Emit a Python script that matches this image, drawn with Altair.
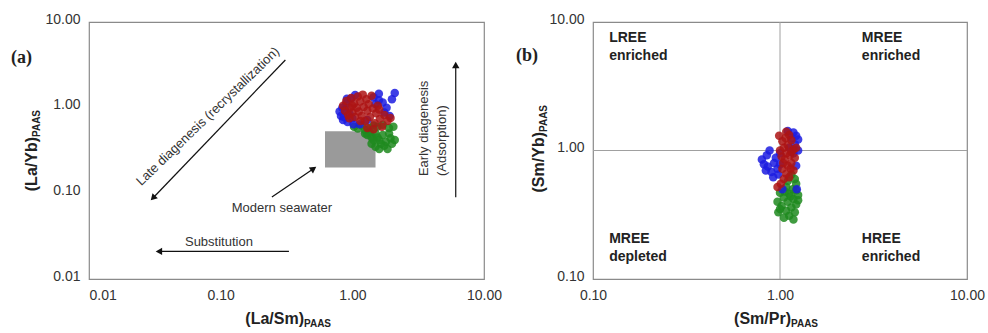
import altair as alt
import pandas as pd

# ---------------- Panel (a): (La/Sm)PAAS vs (La/Yb)PAAS ----------------
green_a_x = [1.03, 1.10, 1.18, 1.25, 1.35, 1.45, 1.55, 1.70, 1.90, 2.05, 1.30, 1.40, 1.50, 1.60, 1.70,
             1.80, 1.95, 2.10, 1.40, 1.50, 1.60, 1.75, 1.85, 1.45, 1.65, 1.35, 1.55, 2.00, 1.25, 1.90]
green_a_y = [0.60, 0.57, 0.62, 0.55, 0.58, 0.62, 0.60, 0.63, 0.58, 0.60, 0.48, 0.45, 0.50, 0.42, 0.48,
             0.40, 0.44, 0.42, 0.38, 0.35, 0.33, 0.36, 0.33, 0.42, 0.38, 0.52, 0.45, 0.38, 0.50, 0.50]

blue_a_x = [0.80, 0.82, 0.85, 0.88, 0.92, 0.95, 1.00, 0.84, 0.90, 0.98, 1.02, 0.91, 1.05, 1.59, 2.10,
            2.00, 1.59, 1.82, 1.92, 1.14, 1.50, 1.70, 1.45, 1.75, 1.30, 0.86]
blue_a_y = [0.90, 0.80, 0.72, 0.95, 0.68, 0.85, 0.75, 1.00, 1.12, 1.28, 0.64, 1.27, 1.41, 1.45, 1.48,
            1.25, 1.22, 1.00, 0.80, 0.64, 1.10, 1.15, 1.32, 0.88, 0.72, 0.78]

red_a_x = [0.85, 0.88, 0.90, 0.93, 0.96, 0.98, 1.00, 1.03, 1.05, 1.08, 1.10, 1.12, 1.15, 1.18, 1.20,
           1.22, 1.25, 1.28, 1.30, 1.33, 1.36, 1.40, 1.43, 1.48, 1.52, 1.56, 1.62, 1.68, 1.75, 1.85,
           1.95, 1.30, 1.45, 1.00, 1.15, 0.95, 1.60]
red_a_y = [1.05, 0.92, 1.20, 0.82, 1.00, 1.30, 0.88, 1.12, 0.78, 1.00, 1.35, 0.90, 1.18, 0.80, 1.42,
           1.02, 0.70, 1.25, 0.92, 1.10, 0.78, 1.38, 0.98, 0.66, 0.86, 1.05, 0.74, 0.60, 0.82, 0.70,
           0.76, 0.58, 0.56, 1.05, 0.70, 0.75, 0.95]

# modern seawater field
seawater_x = [0.62]
seawater_x2 = [1.5]
seawater_y = [0.2]
seawater_y2 = [0.53]

# arrows in panel (a): start -> head
arrow_names = ["late", "substitution", "seawater", "early"]
arrow_x = [0.31, 0.33, 0.245, 6.1]
arrow_y = [3.6, 0.021, 0.0906, 0.09]
arrow_x2 = [0.031, 0.0346, 0.50, 6.1]
arrow_y2 = [0.09, 0.021, 0.191, 3.06]
arrow_angle = [224, 270, 56, 0]

# annotation texts in panel (a)
note_a_text = [["Late diagenesis (recrystallization)"], ["Modern seawater"], ["Substitution"],
               ["Early diagenesis", "(Adsorption)"]]
note_a_x = [0.080, 0.292, 0.097, 3.50]
note_a_y = [0.79, 0.0675, 0.027, 0.159]
note_a_angle = [316, 0, 0, 270]
note_a_align = ["center", "center", "center", "left"]

# ---------------- Panel (b): (Sm/Pr)PAAS vs (Sm/Yb)PAAS ----------------
green_b_x = [1.15, 1.20, 1.10, 1.22, 1.08, 1.17, 1.00, 1.12, 1.25, 1.05, 1.18, 0.97, 1.10, 1.22, 1.02,
             1.15, 1.08, 0.98, 1.20, 1.12, 1.05, 1.18, 1.25, 1.00, 1.14, 1.06, 1.22]
green_b_y = [0.65, 0.60, 0.58, 0.55, 0.52, 0.50, 0.47, 0.46, 0.45, 0.43, 0.42, 0.40, 0.40, 0.38, 0.37,
             0.36, 0.34, 0.33, 0.33, 0.31, 0.30, 0.29, 0.41, 0.35, 0.44, 0.48, 0.49]

blue_b_x = [1.10, 1.18, 1.22, 1.25, 1.15, 1.20, 1.12, 1.25, 1.18, 0.80, 0.82, 0.85, 0.88, 0.86, 0.90,
            0.93, 0.95, 0.97, 0.92, 1.00, 0.98, 0.84, 1.00, 1.22, 1.23, 1.03]
blue_b_y = [1.42, 1.38, 1.30, 1.22, 1.25, 1.12, 1.05, 1.00, 0.95, 0.85, 0.78, 0.92, 1.00, 0.75, 0.68,
            0.80, 0.88, 0.72, 0.62, 0.95, 0.65, 0.70, 0.78, 0.76, 0.50, 0.50]

red_b_x = [0.99, 1.08, 1.12, 1.03, 1.10, 1.15, 1.05, 1.18, 1.08, 1.13, 1.02, 1.20, 1.06, 1.15, 1.10,
           1.03, 1.18, 1.08, 1.12, 1.05, 0.97, 1.01, 1.15, 1.22, 1.00, 1.07, 1.14, 1.04]
red_b_y = [1.30, 1.40, 1.32, 1.18, 1.10, 1.20, 1.05, 1.02, 0.95, 0.92, 0.90, 0.88, 0.85, 0.80, 0.76,
           0.72, 0.70, 0.66, 0.62, 0.60, 0.52, 0.55, 0.98, 1.05, 1.00, 1.25, 0.72, 0.80]

# quadrant labels in panel (b)
note_b_text = [["LREE", "enriched"], ["MREE", "enriched"], ["MREE", "depleted"], ["HREE", "enriched"]]
note_b_x = [0.122, 2.74, 0.122, 2.74]
note_b_y = [7.5, 7.5, 0.205, 0.205]

groups = ["green", "blue", "red"]
group_colors = ["#1f8a1f", "#1c1ce0", "#ad1414"]

FONT = "Liberation Sans"

def points_frame(parts):
    frames = []
    for xs, ys, g in parts:
        frames.append(pd.DataFrame({"x": xs, "y": ys, "g": g}))
    return pd.concat(frames, ignore_index=True)

pts_a = points_frame([(green_a_x, green_a_y, "green"), (blue_a_x, blue_a_y, "blue"), (red_a_x, red_a_y, "red")])
pts_b = points_frame([(green_b_x, green_b_y, "green"), (blue_b_x, blue_b_y, "blue"), (red_b_x, red_b_y, "red")])

color = alt.Color("g:N", scale=alt.Scale(domain=groups, range=group_colors), legend=None)

xa = alt.Scale(type="log", domain=[0.01, 10], nice=False)
ya = alt.Scale(type="log", domain=[0.01, 10], nice=False)
xb = alt.Scale(type="log", domain=[0.1, 10], nice=False)
yb = alt.Scale(type="log", domain=[0.1, 10], nice=False)

def x_axis(vals, first_left=False):
    kw = dict(values=vals, format=".2f", title=None, labelFlush=False)
    if first_left:
        kw["labelAlign"] = {"condition": {"test": "datum.value < 0.011", "value": "left"}, "value": "center"}
    return alt.Axis(**kw)

def y_axis(vals):
    return alt.Axis(values=vals, format=".2f", title=None, labelOffset=-3)

one = alt.Data(values=[{}])

def title_layers(main_x, sub_x, jx, jy, main_y_txt, sub_y_txt, yjx, yjy, tag, tx, ty):
    layers = []
    layers.append(alt.Chart(one).mark_text(text=main_x, font=FONT, fontWeight="bold", fontSize=16,
                                           align="right", baseline="alphabetic", color="#222")
                  .encode(x=alt.value(jx), y=alt.value(jy)))
    layers.append(alt.Chart(one).mark_text(text=sub_x, font=FONT, fontWeight="bold", fontSize=10,
                                           align="left", baseline="alphabetic", color="#222")
                  .encode(x=alt.value(jx), y=alt.value(jy + 3)))
    layers.append(alt.Chart(one).mark_text(text=main_y_txt, font=FONT, fontWeight="bold", fontSize=16,
                                           align="right", baseline="alphabetic", angle=270, color="#222")
                  .encode(x=alt.value(yjx), y=alt.value(yjy)))
    layers.append(alt.Chart(one).mark_text(text=sub_y_txt, font=FONT, fontWeight="bold", fontSize=10,
                                           align="left", baseline="alphabetic", angle=270, color="#222")
                  .encode(x=alt.value(yjx + 3), y=alt.value(yjy)))
    layers.append(alt.Chart(one).mark_text(text=tag, font="Liberation Serif", fontWeight="bold", fontSize=18,
                                           align="left", baseline="middle", color="#222")
                  .encode(x=alt.value(tx), y=alt.value(ty)))
    return layers

# ---------- panel a ----------
box_df = pd.DataFrame({"x": seawater_x, "x2": seawater_x2, "y": seawater_y, "y2": seawater_y2})
box = alt.Chart(box_df).mark_rect(color="#9a9a9a").encode(
    x=alt.X("x:Q", scale=xa, axis=x_axis([0.01, 0.1, 1, 10], True)),
    x2="x2:Q",
    y=alt.Y("y:Q", scale=ya, axis=y_axis([0.01, 0.1, 1, 10])),
    y2="y2:Q",
)

arr_df = pd.DataFrame({"name": arrow_names, "x": arrow_x, "y": arrow_y, "x2": arrow_x2, "y2": arrow_y2,
                       "ang": arrow_angle})
arr_lines = alt.Chart(arr_df).mark_rule(color="#111", strokeWidth=1.2).encode(
    x=alt.X("x:Q", scale=xa), x2="x2:Q", y=alt.Y("y:Q", scale=ya), y2="y2:Q")
arr_heads = alt.Chart(arr_df).mark_point(shape="triangle", filled=True, color="#111", size=55, opacity=1).encode(
    x=alt.X("x2:Q", scale=xa), y=alt.Y("y2:Q", scale=ya), angle=alt.Angle("ang:Q", scale=None))

note_a_df = pd.DataFrame({"t": note_a_text, "x": note_a_x, "y": note_a_y, "ang": note_a_angle, "al": note_a_align})
notes_a = []
for i in range(len(note_a_text)):
    notes_a.append(
        alt.Chart(note_a_df.iloc[[i]]).mark_text(font=FONT, fontSize=13, color="#333", baseline="middle",
                                                 angle=note_a_angle[i], align=note_a_align[i], lineHeight=18)
        .encode(x=alt.X("x:Q", scale=xa), y=alt.Y("y:Q", scale=ya), text="t")
    )

pts_a_chart = alt.Chart(pts_a).mark_circle(size=72, opacity=0.85).encode(
    x=alt.X("x:Q", scale=xa), y=alt.Y("y:Q", scale=ya), color=color)

panel_a = alt.layer(
    box, pts_a_chart, arr_lines, arr_heads, *notes_a,
    *title_layers("(La/Sm)", "PAAS", 215, 302, "(La/Yb)", "PAAS", -52, 115, "(a)", -78, 36),
).properties(width=395, height=257)

# ---------- panel b ----------
vrule = alt.Chart(one).mark_rule(color="#a0a0a0", strokeWidth=1).encode(
    x=alt.X(datum=1, scale=xb, axis=x_axis([0.1, 1, 10])))
hrule = alt.Chart(one).mark_rule(color="#a0a0a0", strokeWidth=1).encode(
    y=alt.Y(datum=1, scale=yb, axis=y_axis([0.1, 1, 10])))

note_b_df = pd.DataFrame({"t": note_b_text, "x": note_b_x, "y": note_b_y})
notes_b = alt.Chart(note_b_df).mark_text(font=FONT, fontSize=14, fontWeight="bold", color="#222",
                                         align="left", baseline="middle", lineHeight=18).encode(
    x=alt.X("x:Q", scale=xb), y=alt.Y("y:Q", scale=yb), text="t")

pts_b_chart = alt.Chart(pts_b).mark_circle(size=72, opacity=0.85).encode(
    x=alt.X("x:Q", scale=xb), y=alt.Y("y:Q", scale=yb), color=color)

panel_b = alt.layer(
    vrule, hrule, notes_b, pts_b_chart,
    *title_layers("(Sm/Pr)", "PAAS", 198, 302, "(Sm/Yb)", "PAAS", -49, 110, "(b)", -77, 34),
).properties(width=374, height=257)

chart = alt.hconcat(panel_a, panel_b, spacing=109, bounds="flush",
                    padding={"left": 10, "top": 11, "right": 0, "bottom": 0},
                    background="white").configure_view(
    stroke="#8a8a8a", strokeWidth=1.2
).configure_axis(
    domain=False, ticks=False, grid=False, labelFont=FONT, labelFontSize=14, labelColor="#333",
    labelPadding=9,
)

chart.save("out.html", embed_options={"renderer": "svg", "actions": False})
